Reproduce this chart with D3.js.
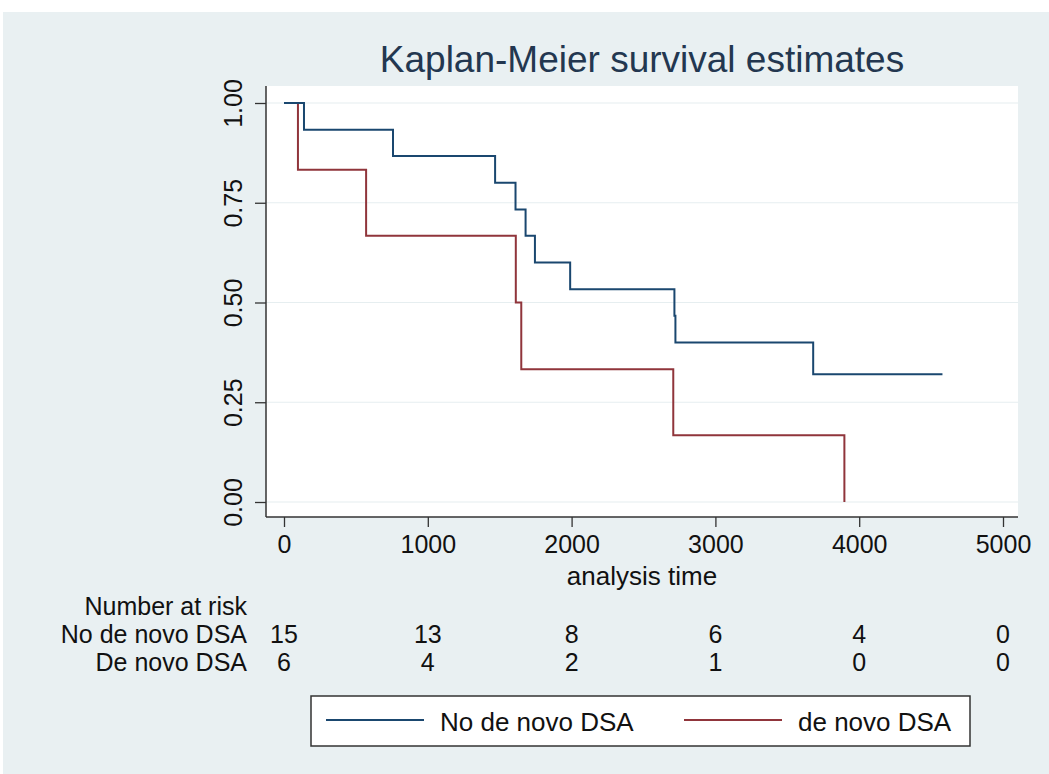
<!DOCTYPE html>
<html>
<head>
<meta charset="utf-8">
<script src="https://cdn.jsdelivr.net/npm/d3@7"></script>
<style>
  body { margin: 0; background: #fff; }
  text { font-family: "Liberation Sans", Arial, sans-serif; fill: #111; }
</style>
</head>
<body>
<div id="km_chart"></div>
<script>
// Kaplan-Meier survival estimates
const noDsaTimes = [0, 139, 758, 1468, 1610, 1680, 1745, 1990, 2715, 2722, 3680, 4579];
const noDsaSurv  = [1.0, 0.933, 0.867, 0.800, 0.733, 0.667, 0.600, 0.533, 0.467, 0.400, 0.320, 0.320];
const dsaTimes = [0, 97, 571, 1612, 1650, 2707, 3897];
const dsaSurv  = [1.0, 0.833, 0.667, 0.500, 0.333, 0.167, 0.0];

const xTicks = [0, 1000, 2000, 3000, 4000, 5000];
const yTicks = [0, 0.25, 0.5, 0.75, 1];
const riskLabels = ["No de novo DSA", "De novo DSA"];
const riskNoDsa = [15, 13, 8, 6, 4, 0];
const riskDsa = [6, 4, 2, 1, 0, 0];
const legendLabels = ["No de novo DSA", "de novo DSA"];

(function km_chart() {
    const width = 1049,
        height = 774;
    const plot = ({ left: 266, right: 1018, top: 86, bottom: 517 });
    const blue = "#1a476f", red = "#90353b";

    const svg = d3.select("#km_chart")
        .append("svg")
        .attr("width", width)
        .attr("height", height);

    // graph region background
    svg.append("rect")
        .attr("x", 3).attr("y", 12)
        .attr("width", width - 3).attr("height", height - 12)
        .attr("fill", "#e9f0f2");

    // plot region
    svg.append("rect")
        .attr("x", plot.left).attr("y", plot.top)
        .attr("width", plot.right - plot.left)
        .attr("height", plot.bottom - plot.top)
        .attr("fill", "#fff");

    let x = d3.scaleLinear()
        .domain([0, 5000])
        .range([284, 1003]);

    let y = d3.scaleLinear()
        .domain([0, 1])
        .range([502, 103]);

    // grid lines
    svg.append("g")
        .selectAll("line")
        .data(yTicks)
        .join("line")
        .attr("x1", plot.left).attr("x2", plot.right)
        .attr("y1", d => y(d)).attr("y2", d => y(d))
        .attr("stroke", "#e6eef0")
        .attr("stroke-width", 1.2);

    // axes
    let xAxis = svg.append("g")
        .attr("transform", `translate(0,${plot.bottom})`)
        .call(d3.axisBottom(x)
            .tickValues(xTicks)
            .tickSize(10)
            .tickPadding(8)
            .tickFormat(d3.format("d")));

    let yAxis = svg.append("g")
        .attr("transform", `translate(${plot.left},0)`)
        .call(d3.axisLeft(y)
            .tickValues(yTicks)
            .tickSize(11)
            .tickFormat(d3.format(".2f")));

    for (let ax of [xAxis, yAxis]) {
        ax.select(".domain").remove();
        ax.selectAll(".tick line").attr("stroke", "#333").attr("stroke-width", 1.3);
        ax.selectAll(".tick text")
            .attr("font-size", 25)
            .attr("font-family", "Liberation Sans, Arial, sans-serif")
            .attr("fill", "#111");
    }

    yAxis.selectAll(".tick text")
        .attr("transform", "rotate(-90)")
        .attr("x", 0)
        .attr("y", -24)
        .attr("dy", 0)
        .attr("text-anchor", "middle");

    svg.append("line")
        .attr("x1", plot.left).attr("x2", plot.right)
        .attr("y1", plot.bottom).attr("y2", plot.bottom)
        .attr("stroke", "#333").attr("stroke-width", 1.5);
    svg.append("line")
        .attr("x1", plot.left).attr("x2", plot.left)
        .attr("y1", plot.top).attr("y2", plot.bottom)
        .attr("stroke", "#333").attr("stroke-width", 1.5);

    // survival curves
    let line = d3.line()
        .x(d => x(d[0]))
        .y(d => y(d[1]))
        .curve(d3.curveStepAfter);

    svg.append("path")
        .datum(dsaTimes.map((t, i) => [t, dsaSurv[i]]))
        .attr("d", line)
        .attr("fill", "none")
        .attr("stroke", red)
        .attr("stroke-width", 2);

    svg.append("path")
        .datum(noDsaTimes.map((t, i) => [t, noDsaSurv[i]]))
        .attr("d", line)
        .attr("fill", "none")
        .attr("stroke", blue)
        .attr("stroke-width", 2);

    // titles
    svg.append("text")
        .attr("x", (plot.left + plot.right) / 2)
        .attr("y", 72)
        .attr("text-anchor", "middle")
        .attr("font-size", 37)
        .style("fill", "#233750")
        .text("Kaplan-Meier survival estimates");

    svg.append("text")
        .attr("x", (plot.left + plot.right) / 2)
        .attr("y", 585)
        .attr("text-anchor", "middle")
        .attr("font-size", 26)
        .text("analysis time");

    // number at risk table
    svg.append("text")
        .attr("x", 247).attr("y", 615)
        .attr("text-anchor", "end")
        .attr("font-size", 25)
        .text("Number at risk");

    let rows = [riskNoDsa, riskDsa];
    let rowY = [643, 671];
    rows.forEach((vals, r) => {
        svg.append("text")
            .attr("x", 247).attr("y", rowY[r])
            .attr("text-anchor", "end")
            .attr("font-size", 25)
            .text(riskLabels[r]);
        svg.append("g")
            .selectAll("text")
            .data(vals)
            .join("text")
            .attr("x", (d, i) => x(xTicks[i]))
            .attr("y", rowY[r])
            .attr("text-anchor", "middle")
            .attr("font-size", 25)
            .text(d => d);
    });

    // legend
    let legend = svg.append("g");
    legend.append("rect")
        .attr("x", 311).attr("y", 696)
        .attr("width", 659).attr("height", 50)
        .attr("fill", "#fff")
        .attr("stroke", "#333")
        .attr("stroke-width", 1.5);

    let legX = [326, 684];
    [blue, red].forEach((c, i) => {
        legend.append("line")
            .attr("x1", legX[i]).attr("x2", legX[i] + 98)
            .attr("y1", 720).attr("y2", 720)
            .attr("stroke", c).attr("stroke-width", 2);
        legend.append("text")
            .attr("x", legX[i] + 114).attr("y", 731)
            .attr("font-size", 26)
            .text(legendLabels[i]);
    });
})();
</script>
</body>
</html>
